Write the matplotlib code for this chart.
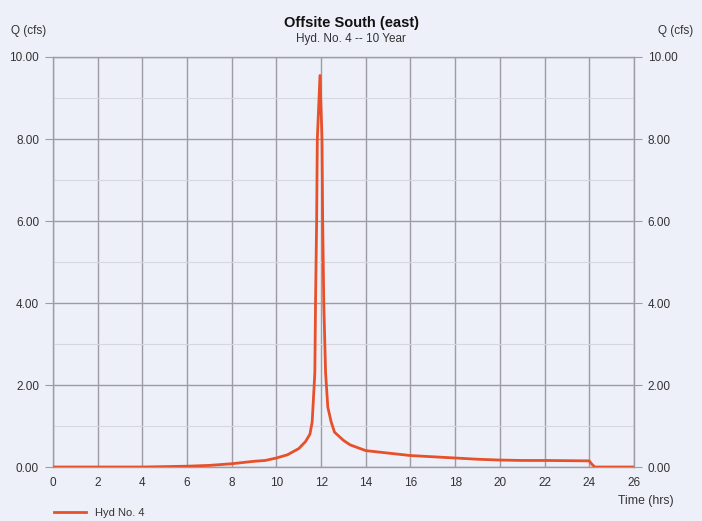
import matplotlib.pyplot as plt
from matplotlib.ticker import MultipleLocator, FormatStrFormatter

plt.rcParams['font.family'] = ['Liberation Sans', 'DejaVu Sans']

# hydrograph ordinates, Hyd. No. 4, 10 year storm
time_hrs = [0, 2, 4, 5, 6, 7, 8, 9, 9.5, 10, 10.5, 11, 11.3, 11.5, 11.6,
            11.72, 11.75, 11.8, 11.83, 11.95, 12.04, 12.07, 12.12, 12.2,
            12.3, 12.45, 12.6, 13.0, 13.3, 14, 15, 16, 17, 18, 19, 20, 21,
            22, 23, 24, 24.1, 24.25, 26]
flow_cfs = [0, 0, 0, 0.01, 0.02, 0.04, 0.08, 0.14, 0.16, 0.22, 0.3, 0.45,
            0.62, 0.8, 1.1, 2.3, 4.0, 6.0, 8.0, 9.55, 8.0, 6.0, 4.0, 2.3,
            1.46, 1.1, 0.85, 0.65, 0.54, 0.40, 0.34, 0.28, 0.25, 0.22, 0.19,
            0.17, 0.16, 0.16, 0.155, 0.15, 0.08, 0, 0]

bg = '#edf0f8'
red = '#e8502a'
grid_c = '#9c9ca2'
txt = '#333333'

fig = plt.figure(figsize=(7.02, 5.21), dpi=100, facecolor=bg)
ax = fig.add_axes([0.0755, 0.1036, 0.8275, 0.787], facecolor=bg)

ax.plot(time_hrs, flow_cfs, color=red, lw=2.0, label='Hyd No. 4', zorder=3)

ax.set_xlim(0, 26)
ax.set_ylim(0, 10)
ax.xaxis.set_major_locator(MultipleLocator(2))
ax.yaxis.set_major_locator(MultipleLocator(2))
ax.yaxis.set_minor_locator(MultipleLocator(1))
ax.yaxis.set_major_formatter(FormatStrFormatter('%.2f'))

ax.grid(which='major', color=grid_c, lw=1.0)
ax.grid(which='minor', axis='y', color='#d6d8e0', lw=0.8)
for s in ax.spines.values():
    s.set_color(grid_c)
    s.set_linewidth(1.0)

ax.tick_params(axis='y', which='major', length=6, color=grid_c,
               labelsize=8.5, labelcolor=txt, left=True, right=True,
               labelleft=True, labelright=True, pad=4)
ax.tick_params(axis='y', which='minor', length=0)
ax.tick_params(axis='x', length=0, labelsize=8.5, labelcolor=txt, pad=7)

fig.text(0.5, 0.955, 'Offsite South (east)', ha='center', va='center',
         fontsize=10.5, fontweight='bold', color='#111111')
fig.text(0.5, 0.925, 'Hyd. No. 4 -- 10 Year', ha='center', va='center',
         fontsize=8.5, color=txt)
fig.text(0.016, 0.94, 'Q (cfs)', ha='left', va='center', fontsize=8.5,
         color=txt)
fig.text(0.987, 0.94, 'Q (cfs)', ha='right', va='center', fontsize=8.5,
         color=txt)
fig.text(0.96, 0.038, 'Time (hrs)', ha='right', va='center', fontsize=8.8,
         color=txt)

fig.legend(loc='lower left', bbox_to_anchor=(0.063, -0.014), frameon=False,
           fontsize=8, handlelength=2.9, labelcolor=txt)

fig.savefig('out.png', dpi=100, facecolor=bg)
